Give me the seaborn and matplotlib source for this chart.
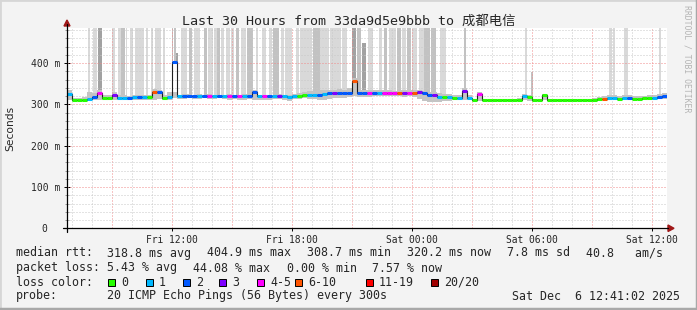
import numpy as np
import pandas as pd
import matplotlib
matplotlib.use("Agg")
import matplotlib.pyplot as plt
import seaborn as sns
from matplotlib.patches import Rectangle, Polygon
from matplotlib.lines import Line2D
from matplotlib.ticker import MultipleLocator

# ---------------- data ----------------
step_hours = 0.25  # 15-minute buckets, time axis starts Fri 06:45

median_ms = [325, 311, 311, 311, 314, 318, 328, 316, 316, 323,
             316, 316, 316, 318, 317, 318, 318, 330, 330, 316,
             317, 404, 320, 321, 321, 321, 320, 320, 320, 320,
             320, 320, 320, 320, 320, 320, 320, 330, 320, 320,
             320, 320, 320, 320, 319, 321, 321, 322, 323, 323,
             324, 325, 327, 327, 328, 328, 328, 357, 328, 328,
             328, 328, 328, 328, 328, 328, 328, 328, 328, 328,
             330, 327, 324, 324, 318, 317, 317, 316, 316, 333,
             316, 311, 326, 311, 311, 311, 311, 311, 311, 312,
             312, 320, 318, 311, 312, 323, 312, 312, 312, 312,
             312, 312, 312, 312, 312, 312, 313, 314, 315, 315,
             314, 315, 315, 314, 314, 315, 315, 316, 318, 320]

loss_count = [1, 0, 0, 0, 1, 2, 4, 0, 0, 3,
              1, 1, 2, 1, 2, 1, 0, 7, 2, 0,
              1, 2, 1, 2, 2, 2, 1, 2, 4, 1,
              2, 1, 4, 2, 4, 1, 2, 2, 1, 4,
              2, 1, 3, 1, 1, 1, 0, 0, 1, 1,
              2, 1, 2, 3, 2, 2, 2, 7, 2, 2,
              4, 2, 1, 4, 4, 4, 6, 3, 4, 6,
              3, 2, 2, 3, 1, 0, 1, 0, 1, 3,
              1, 0, 4, 0, 0, 0, 0, 0, 0, 0,
              0, 1, 0, 0, 0, 0, 0, 0, 0, 0,
              0, 0, 0, 0, 0, 0, 0, 7, 1, 1,
              0, 1, 2, 0, 0, 0, 0, 1, 2, 2]

smoke_lo = [310, 308, 308, 308, 310, 312, 312, 310, 310, 312,
            311, 310, 311, 312, 312, 312, 312, 312, 313, 310,
            311, 316, 314, 313, 315, 314, 314, 315, 314, 314,
            315, 314, 312, 313, 312, 312, 313, 312, 311, 311,
            312, 313, 314, 310, 308, 313, 314, 315, 314, 313,
            312, 312, 314, 315, 316, 316, 317, 320, 318, 318,
            319, 320, 320, 320, 321, 320, 320, 319, 320, 318,
            314, 308, 306, 306, 306, 308, 309, 310, 311, 312,
            311, 309, 309, 309, 309, 309, 309, 309, 309, 309,
            309, 310, 309, 309, 309, 310, 309, 309, 309, 309,
            309, 309, 309, 309, 309, 309, 309, 310, 310, 311,
            310, 310, 311, 310, 310, 311, 311, 312, 313, 314]

smoke_hi = [335, 316, 316, 318, 330, 328, 335, 322, 322, 330,
            322, 322, 321, 322, 322, 323, 324, 338, 336, 322,
            330, 330, 324, 325, 326, 324, 325, 324, 325, 324,
            324, 324, 325, 324, 324, 325, 324, 335, 324, 324,
            324, 324, 325, 324, 323, 326, 328, 330, 332, 332,
            334, 335, 336, 336, 337, 336, 340, 365, 336, 336,
            336, 335, 334, 334, 334, 333, 334, 334, 334, 334,
            336, 333, 330, 330, 328, 326, 325, 324, 324, 340,
            322, 314, 330, 313, 313, 313, 313, 313, 313, 314,
            316, 326, 322, 313, 314, 326, 314, 314, 314, 314,
            314, 314, 314, 314, 314, 316, 318, 320, 322, 322,
            321, 322, 322, 320, 320, 321, 322, 323, 325, 328]

# tall smoke bursts: start/end (hours from start), top (ms), gray class
burst_start = [1.05, 1.30, 1.55, 2.25, 2.55, 2.70, 2.95, 3.15, 3.40, 3.95,
               4.20, 4.40, 4.80, 5.25, 5.35, 5.45, 5.70, 6.10, 6.35, 6.85,
               7.05, 7.35, 7.50, 7.70, 7.95, 8.20, 8.45, 8.70, 9.00, 9.20,
               9.45, 9.75, 10.10, 10.30, 10.70, 10.90, 11.45, 11.65, 12.30, 12.65,
               13.15, 13.75, 14.25, 14.50, 14.75, 15.05, 15.60, 15.85, 16.10, 16.50,
               16.75, 17.00, 17.25, 17.60, 17.85, 18.20, 18.65, 19.85, 22.90, 23.20,
               27.10, 27.30, 27.85, 29.60]
burst_end = [1.15, 1.50, 1.75, 2.40, 2.70, 2.90, 3.00, 3.30, 3.85, 4.05,
             4.30, 4.70, 4.90, 5.30, 5.45, 5.55, 6.00, 6.25, 6.65, 7.00,
             7.30, 7.50, 7.65, 7.85, 8.15, 8.35, 8.60, 8.95, 9.20, 9.30,
             9.55, 9.95, 10.25, 10.60, 10.85, 11.25, 11.60, 12.25, 12.65, 13.10,
             13.70, 14.00, 14.45, 14.70, 14.95, 15.30, 15.75, 16.00, 16.45, 16.70,
             16.95, 17.20, 17.50, 17.85, 18.15, 18.45, 18.95, 19.95, 23.00, 23.30,
             27.25, 27.40, 28.05, 29.70]
burst_top = [490, 490, 490, 490, 490, 490, 490, 490, 490, 490,
             490, 490, 490, 490, 490, 424, 490, 490, 490, 490,
             490, 490, 490, 490, 490, 490, 490, 490, 490, 490,
             490, 490, 490, 490, 490, 490, 490, 490, 490, 490,
             490, 490, 490, 490, 448, 490, 490, 490, 490, 490,
             490, 490, 490, 490, 490, 490, 490, 490, 490, 378,
             490, 490, 490, 490]
burst_gray = ["L", "L", "D", "L", "L", "M", "L", "L", "L", "L",
              "L", "L", "L", "M", "M", "D", "L", "M", "L", "M",
              "L", "L", "M", "L", "L", "L", "M", "L", "M", "M",
              "L", "L", "L", "M", "L", "L", "L", "L", "M", "L",
              "L", "L", "D", "M", "D", "L", "L", "M", "L", "M",
              "L", "M", "L", "L", "M", "M", "L", "M", "L", "M",
              "L", "L", "L", "L"]

loss_labels = ["0", "1", "2", "3", "4-5", "6-10", "11-19", "20/20"]
loss_colors = ["#26ff00", "#00b8ff", "#0059ff", "#7e00ff", "#ff00ff", "#ff5500", "#ff0000", "#a00000"]

x_tick_hours = [5.25, 11.25, 17.25, 23.25, 29.25]
x_tick_labels = ["Fri 12:00", "Fri 18:00", "Sat 00:00", "Sat 06:00", "Sat 12:00"]
y_tick_values = [0, 100, 200, 300, 400]
y_tick_labels = ["0  ", "100 m", "200 m", "300 m", "400 m"]

title = "Last 30 Hours from 33da9d5e9bbb to 成都电信"
stats_rtt = [("median rtt:", 16), ("318.8 ms avg", 107), ("404.9 ms max", 207),
             ("308.7 ms min", 307), ("320.2 ms now", 407), ("7.8 ms sd", 507),
             ("40.8   am/s", 586)]
stats_loss = [("packet loss:", 16), ("5.43 % avg", 107), ("44.08 % max", 193),
              ("0.00 % min", 287), ("7.57 % now", 372)]
probe_text = "20 ICMP Echo Pings (56 Bytes) every 300s"
date_text = "Sat Dec  6 12:41:02 2025"

# ---------------- helpers ----------------
W, H = 697, 310
def fx(px):
    return px / W
def fy(py):
    return 1 - py / H

def loss_color(n):
    if n <= 0: return loss_colors[0]
    if n == 1: return loss_colors[1]
    if n == 2: return loss_colors[2]
    if n == 3: return loss_colors[3]
    if n <= 5: return loss_colors[4]
    if n <= 10: return loss_colors[5]
    if n <= 19: return loss_colors[6]
    return loss_colors[7]

gray_map = {"L": "#d9d9d9", "M": "#c2c2c2", "D": "#a2a2a2"}

sns.set_theme(style="white")
mono = ["DejaVu Sans Mono", "Noto Sans CJK SC"]
plt.rcParams["font.family"] = mono

fig = plt.figure(figsize=(W / 100, H / 100), dpi=100, facecolor="#f3f3f3")
x0, x1 = 67, 667
y0, y1 = 228.3, 27.7
ax = fig.add_axes([fx(x0), fy(y0), (x1 - x0) / W, (y0 - y1) / H])
ax.set_facecolor("white")
ax.set_xlim(0, 30)
ax.set_ylim(0, 486)
for s in ax.spines.values():
    s.set_visible(False)

n = len(median_ms)
t = np.arange(n) * step_hours
df = pd.DataFrame({"t": t, "median": median_ms, "loss": loss_count,
                   "lo": smoke_lo, "hi": smoke_hi})

# tall bursts
med_arr = np.array(median_ms, dtype=float)
for s0, s1, top, g in zip(burst_start, burst_end, burst_top, burst_gray):
    base = med_arr[min(int(s0 / step_hours), n - 1)]
    ax.add_patch(Rectangle((s0, base), s1 - s0, top - base, facecolor=gray_map[g],
                           edgecolor="none", zorder=1))

# smoke band
tt = np.append(t, t[-1] + step_hours)
ax.fill_between(tt, np.append(smoke_lo, smoke_lo[-1]), np.append(smoke_hi, smoke_hi[-1]),
                step="post", color="#c4c4c4", lw=0, zorder=1.5)

# grid (dotted)
for h in np.arange(0.25, 30, 1.0):
    major = abs(((h - 2.25) / 3) - round((h - 2.25) / 3)) < 1e-6
    ax.axvline(h, color="#f08a8a" if major else "#c8c8c8", lw=0.72,
               ls=(0, (1, 2)), zorder=2)
for v in range(20, 486, 20):
    major = v % 100 == 0
    ax.axhline(v, color="#f08a8a" if major else "#c8c8c8", lw=0.72,
               ls=(0, (1, 2)), zorder=2)

# median line (black step) + loss coloured segments
df_line = pd.concat([df, pd.DataFrame({"t": [tt[-1]], "median": [median_ms[-1]]})],
                    ignore_index=True)
sns.lineplot(data=df_line, x="t", y="median", ax=ax, drawstyle="steps-post",
             color="#202020", lw=0.8, estimator=None, zorder=3)
ax.hlines(df["median"], df["t"], df["t"] + step_hours,
          colors=[loss_color(v) for v in df["loss"]], lw=2.2, zorder=4,
          capstyle="butt")

# ticks
ax.set_xticks(x_tick_hours)
ax.set_xticklabels(x_tick_labels, fontsize=6.9)
ax.set_yticks(y_tick_values)
ax.set_yticklabels(y_tick_labels, fontsize=7.0)
ax.yaxis.set_minor_locator(MultipleLocator(20))
ax.tick_params(axis="x", which="major", direction="out", length=2.5, width=0.7,
               pad=2.0, color="black", bottom=True)
ax.tick_params(axis="y", which="major", direction="inout", length=5, width=0.7,
               pad=2.5, color="black", left=True)
ax.tick_params(axis="y", which="minor", direction="inout", length=3, width=0.6,
               color="#888888", left=True)
ax.set_xlabel("")
ax.set_ylabel("")

# axes lines + arrows
fig.add_artist(Line2D([fx(63), fx(668)], [fy(228.3), fy(228.3)], color="black", lw=0.9))
fig.add_artist(Line2D([fx(67), fx(67)], [fy(232), fy(24)], color="black", lw=0.9))
fig.add_artist(Polygon([[fx(64), fy(26)], [fx(70), fy(26)], [fx(67), fy(20)]],
                       closed=True, color="#a01818"))
fig.add_artist(Polygon([[fx(668), fy(225)], [fx(668), fy(231.5)], [fx(674), fy(228.3)]],
                       closed=True, color="#a01818"))

# titles
fig.text(0.5, fy(21.5), title, ha="center", va="center", fontsize=9.6, family=mono)
fig.text(fx(10), fy(128), "Seconds", rotation=90, ha="center", va="center",
         fontsize=7.7, family=["DejaVu Sans"])
fig.text(fx(687.5), fy(5), "RRDTOOL / TOBI OETIKER", rotation=270, ha="center",
         va="top", fontsize=5.9, color="#b4b4b4", family=mono)

# legend / stats
fs = 8.4
for txt, px in stats_rtt:
    fig.text(fx(px), fy(253), txt, ha="left", va="center", fontsize=fs)
for txt, px in stats_loss:
    fig.text(fx(px), fy(268), txt, ha="left", va="center", fontsize=fs)
fig.text(fx(16), fy(282), "loss color:", ha="left", va="center", fontsize=fs)
box_px = [108, 146, 183, 219, 257, 295, 366, 431]
for lab, col, bx in zip(loss_labels, loss_colors, box_px):
    fig.add_artist(Rectangle((fx(bx), fy(285.5)), 7 / W, 7 / H, facecolor=col,
                             edgecolor="black", lw=0.7))
    fig.text(fx(bx + 13), fy(282), lab, ha="left", va="center", fontsize=fs)
fig.text(fx(16), fy(296), "probe:", ha="left", va="center", fontsize=fs)
fig.text(fx(107), fy(296), probe_text, ha="left", va="center", fontsize=fs)
fig.text(fx(680), fy(296), date_text, ha="right", va="center", fontsize=fs)

# frame
fig.add_artist(Line2D([0, 0, 1], [0, 1, 1], color="#d6d6d6", lw=2.0))
fig.add_artist(Line2D([0, 1, 1], [0.003, 0.003, 1], color="#a8a8a8", lw=2.5))

fig.savefig("out.png", dpi=100, facecolor=fig.get_facecolor())
